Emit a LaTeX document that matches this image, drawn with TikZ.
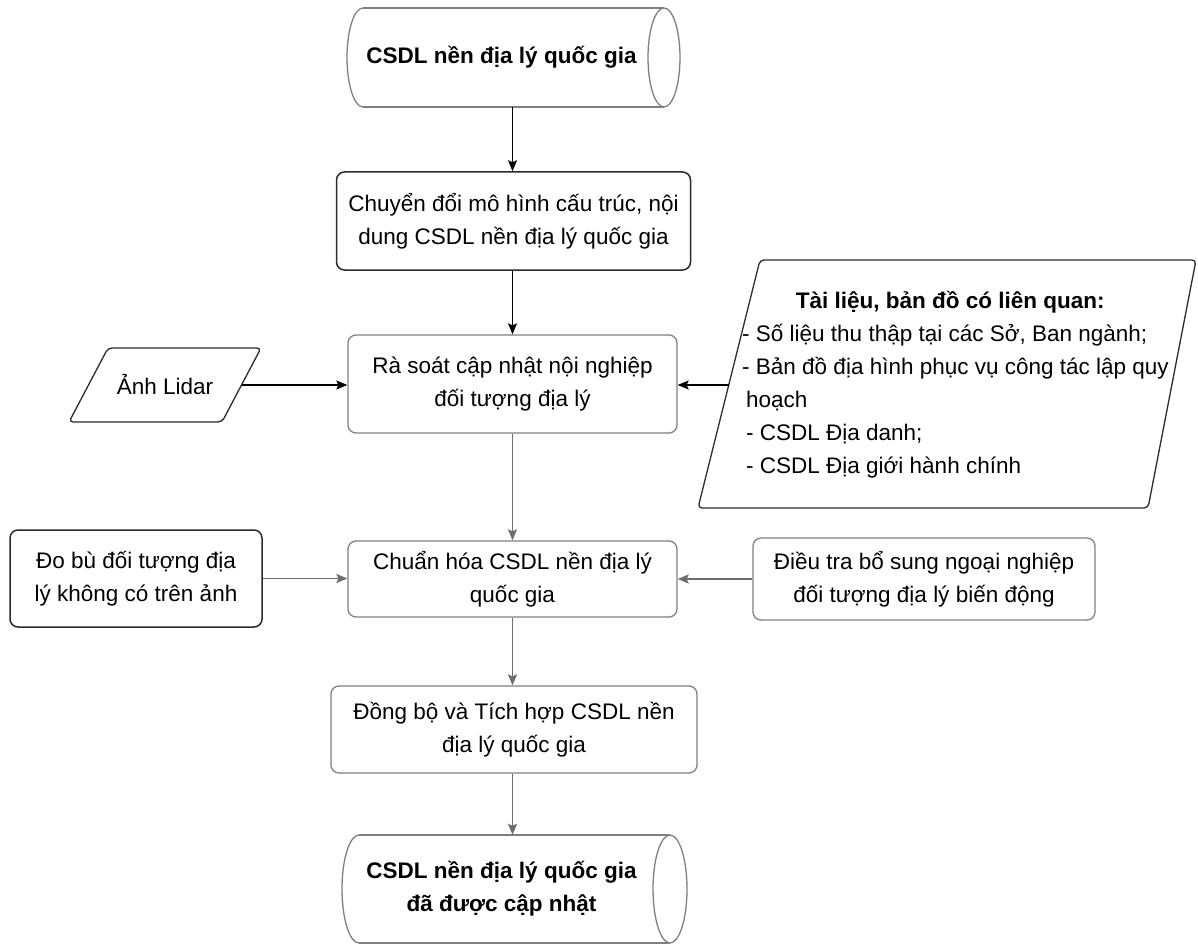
\documentclass[tikz,border=0pt]{standalone}
\usepackage{fontspec}
\setmainfont{Liberation Sans}
\usetikzlibrary{arrows.meta}
\definecolor{linegray}{HTML}{808080}
\definecolor{darkline}{HTML}{2B2B2B}
\definecolor{arrowgray}{HTML}{6E6E6E}
\begin{document}
\begin{tikzpicture}[x=1pt,y=-1pt,
  every node/.style={font=\fontsize{22.5}{33}\selectfont, align=center, inner sep=0pt},
  procbox/.style={draw=linegray, line width=1.3pt, rounded corners=8pt},
  darkbox/.style={draw=darkline, line width=1.5pt, rounded corners=8pt},
  shapeline/.style={draw=linegray, line width=1.3pt},
  paraline/.style={draw=darkline, line width=1.3pt, rounded corners=4pt},
  arrowblack/.style={draw=black, line width=1.4pt, -{Stealth[length=11pt,width=9pt,inset=2pt]}},
  arrowgrey/.style={draw=arrowgray, line width=1.6pt, -{Stealth[length=11pt,width=9pt,inset=2pt]}}
]
\useasboundingbox (0,0) rectangle (1198,944);
\fill[white] (0,0) rectangle (1198,944);

% top cylinder
\node[minimum width=333pt, minimum height=99pt] (c1) at (513.5,57.5)
  {\bfseries CSDL nền địa lý quốc gia\hspace*{24pt}};
\draw[shapeline] (363,8) -- (664,8);
\draw[shapeline] (363,107) -- (664,107);
\draw[shapeline] (363,8) arc[start angle=90, end angle=270, x radius=16pt, y radius=49.5pt];
\draw[shapeline] (664,57.5) ellipse[x radius=16pt, y radius=49.5pt];

% box 2
\node[darkbox, minimum width=354pt, minimum height=98pt] (b2) at (513.5,221)
  {Chuyển đổi mô hình cấu trúc, nội\\dung CSDL nền địa lý quốc gia};

% box 3
\node[procbox, minimum width=329pt, minimum height=98pt] (b3) at (512.5,384)
  {Rà soát cập nhật nội nghiệp\\đối tượng địa lý};

% Lidar parallelogram
\node[minimum width=153pt, minimum height=74pt] (lidar) at (165,385) {Ảnh Lidar};
\draw[paraline] (108,348) -- (261,348) -- (222,422) -- (69,422) -- cycle;

% right parallelogram
\draw[paraline] (760,260) -- (1196,260) -- (1148,508) -- (698,508) -- cycle;
\node[anchor=west, align=left, inner xsep=13pt] (docs) at (729,385)
  {\makebox[416pt][c]{\bfseries Tài liệu, bản đồ có liên quan:}\\
   - Số liệu thu thập tại các Sở, Ban ngành;\\
   - Bản đồ địa hình phục vụ công tác lập quy\\
   \hspace*{4pt}hoạch\\
   \hspace*{4pt}- CSDL Địa danh;\\
   \hspace*{4pt}- CSDL Địa giới hành chính};

% box 4
\node[procbox, minimum width=329pt, minimum height=76pt] (b4) at (512.5,579)
  {Chuẩn hóa CSDL nền địa lý\\quốc gia};

% left box
\node[darkbox, minimum width=252pt, minimum height=97pt] (dobu) at (136,578.5)
  {Đo bù đối tượng địa\\lý không có trên ảnh};

% right box
\node[procbox, minimum width=342pt, minimum height=82pt] (dieutra) at (924,579)
  {Điều tra bổ sung ngoại nghiệp\\đối tượng địa lý biến động};

% box 5
\node[procbox, minimum width=366pt, minimum height=87pt] (b5) at (514,729.5)
  {Đồng bộ và Tích hợp CSDL nền\\địa lý quốc gia};

% bottom cylinder
\node[minimum width=345pt, minimum height=108pt] (c2) at (514.5,889)
  {\bfseries CSDL nền địa lý quốc gia\hspace*{26pt}\\\bfseries đã được cập nhật\hspace*{26pt}};
\draw[shapeline] (359,835) -- (670,835);
\draw[shapeline] (359,943) -- (670,943);
\draw[shapeline] (359,835) arc[start angle=90, end angle=270, x radius=17pt, y radius=54pt];
\draw[shapeline] (670,889) ellipse[x radius=17pt, y radius=54pt];

% connectors
\draw[arrowblack] (c1.south -| b3.north) -- (b3.north |- b2.north);
\draw[arrowblack] (b2.south -| b3.north) -- (b3.north);
\draw[arrowblack] (lidar.east) -- (lidar.east -| b3.west);
\draw[arrowblack] (docs.west) -- (docs.west -| b3.east);
\draw[arrowgrey] (b3.south) -- (b4.north);
\draw[arrowgrey] (dobu.east) -- (dobu.east -| b4.west);
\draw[arrowgrey] (dieutra.west) -- (dieutra.west -| b4.east);
\draw[arrowgrey] (b4.south) -- (b4.south |- b5.north);
\draw[arrowgrey] (b4.south |- b5.south) -- (b4.south |- c2.north);
\end{tikzpicture}
\end{document}
